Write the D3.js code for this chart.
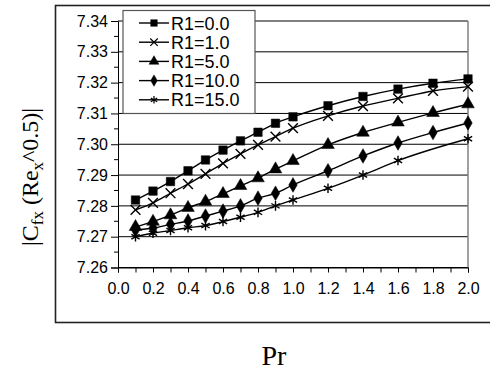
<!DOCTYPE html>
<html>
<head>
<meta charset="utf-8">
<script src="https://cdn.jsdelivr.net/npm/d3@7"></script>
<style>
  body { margin: 0; background: #fff; }
  .tick-label { font-family: "Liberation Sans", Arial, sans-serif; font-size: 16px; fill: #000; }
  .legend-label { font-family: "Liberation Sans", Arial, sans-serif; font-size: 18px; fill: #000; }
  .title { font-family: "Liberation Serif", "Times New Roman", serif; fill: #000; }
</style>
</head>
<body>
<div id="chart"></div>
<script>
// ---- data
const prValues = [0.1, 0.2, 0.3, 0.4, 0.5, 0.6, 0.7, 0.8, 0.9, 1.0, 1.2, 1.4, 1.6, 1.8, 2.0];
const seriesNames = ["R1=0.0", "R1=1.0", "R1=5.0", "R1=10.0", "R1=15.0"];
const r1_00 = [7.2819, 7.2848, 7.2879, 7.2914, 7.2949, 7.2981, 7.3011, 7.3039, 7.3068, 7.3089, 7.3125, 7.3155, 7.3179, 7.3198, 7.3212];
const r1_01 = [7.2787, 7.2810, 7.2841, 7.2871, 7.2904, 7.2938, 7.2969, 7.2998, 7.3025, 7.3052, 7.3092, 7.3124, 7.3149, 7.3173, 7.3187];
const r1_05 = [7.2732, 7.2749, 7.2770, 7.2794, 7.2814, 7.2839, 7.2865, 7.2890, 7.2919, 7.2946, 7.2998, 7.3038, 7.3071, 7.3102, 7.3130];
const r1_10 = [7.2722, 7.2728, 7.2740, 7.2751, 7.2767, 7.2783, 7.2800, 7.2825, 7.2841, 7.2868, 7.2914, 7.2962, 7.3004, 7.3038, 7.3069];
// the 1.8 point is not drawn in the original for R1=15.0
const r1_15 = [7.2700, 7.2711, 7.2720, 7.2729, 7.2736, 7.2749, 7.2763, 7.2779, 7.2800, 7.2819, 7.2857, 7.2900, 7.2947, null, 7.3018];
const xTicks = d3.range(0, 21).map(i => i / 10);
const xTickLabels = ["0.0", "0.2", "0.4", "0.6", "0.8", "1.0", "1.2", "1.4", "1.6", "1.8", "2.0"];
const yTickLabels = ["7.26", "7.27", "7.28", "7.29", "7.30", "7.31", "7.32", "7.33", "7.34"];

const allSeries = [r1_00, r1_01, r1_05, r1_10, r1_15];
const symbols = [d3.symbolSquare, d3.symbolTimes, d3.symbolTriangle, d3.symbolDiamond, d3.symbolAsterisk];
const symSize = [72, 64, 70, 62, 64];
const filled = [true, false, true, true, false];

const W = 490, H = 370;
const plot = { left: 118, right: 468, top: 21, bottom: 267.5 };

const svg = d3.select("#chart").append("svg")
  .attr("width", W)
  .attr("height", H);

// outer frame (right side runs off the picture)
svg.append("rect")
  .attr("x", 55.5).attr("y", 5.5)
  .attr("width", 450).attr("height", 317)
  .attr("fill", "none")
  .attr("stroke", "#222")
  .attr("stroke-width", 1.6);

const x = d3.scaleLinear().domain([0, 2]).range([plot.left, plot.right]);
const y = d3.scaleLinear().domain([7.26, 7.34]).range([plot.bottom, plot.top]);

//---- grid lines
const yMajor = yTickLabels.map(Number);
svg.append("g").selectAll("line")
  .data(yMajor)
  .enter().append("line")
  .attr("x1", plot.left).attr("x2", plot.right)
  .attr("y1", d => y(d)).attr("y2", d => y(d))
  .attr("stroke", "#000")
  .attr("stroke-width", 1);

// right border of plot
svg.append("line")
  .attr("x1", plot.right).attr("x2", plot.right)
  .attr("y1", plot.top).attr("y2", plot.bottom)
  .attr("stroke", "#808080").attr("stroke-width", 1.5);

//---- y axis
const yAxis = d3.axisLeft(y)
  .tickValues(yMajor)
  .tickSize(7)
  .tickPadding(3)
  .tickFormat((d, i) => yTickLabels[i]);
const gy = svg.append("g")
  .attr("transform", `translate(${plot.left},0)`)
  .call(yAxis);
gy.attr("font-family", null).attr("font-size", null);
gy.select(".domain").attr("stroke", "#000");
gy.selectAll("text").attr("class", "tick-label");

// minor ticks half way
const yMinor = d3.range(0, 8).map(i => 7.265 + i * 0.01);
svg.append("g").selectAll("line")
  .data(yMinor)
  .enter().append("line")
  .attr("x1", plot.left - 4).attr("x2", plot.left)
  .attr("y1", d => y(d)).attr("y2", d => y(d))
  .attr("stroke", "#000");

//---- x axis
const xAxis = d3.axisBottom(x)
  .tickValues(xTicks)
  .tickSize(5)
  .tickPadding(10)
  .tickFormat(d => {
    const k = Math.round(d * 10);
    return k % 2 === 0 ? xTickLabels[k / 2] : "";
  });
const gx = svg.append("g")
  .attr("transform", `translate(0,${plot.bottom})`)
  .call(xAxis);
gx.attr("font-family", null).attr("font-size", null);
gx.select(".domain").attr("stroke", "#000");
gx.selectAll("text").attr("class", "tick-label");

//---- series
const line = d3.line()
  .x(d => x(d.pr))
  .y(d => y(d.v))
  .curve(d3.curveMonotoneX);

allSeries.forEach((vals, s) => {
  const pts = vals.map((v, i) => ({ pr: prValues[i], v: v })).filter(d => d.v !== null);
  svg.append("path")
    .datum(pts)
    .attr("d", line)
    .attr("fill", "none")
    .attr("stroke", "#000")
    .attr("stroke-width", 1.4);

  svg.append("g").selectAll("path")
    .data(pts)
    .enter().append("path")
    .attr("transform", d => `translate(${x(d.pr)},${y(d.v)})`)
    .attr("d", d3.symbol(symbols[s], symSize[s]))
    .attr("fill", filled[s] ? "#000" : "none")
    .attr("stroke", "#000")
    .attr("stroke-width", filled[s] ? 0.5 : 1.4);
});

//---- legend
const legend = svg.append("g");
legend.append("rect")
  .attr("x", 123).attr("y", 10.5)
  .attr("width", 132).attr("height", 103)
  .attr("fill", "#fff")
  .attr("stroke", "#555")
  .attr("stroke-width", 1.2);

seriesNames.forEach((name, s) => {
  const cy = 23 + s * 19.2;
  legend.append("line")
    .attr("x1", 139).attr("x2", 169)
    .attr("y1", cy).attr("y2", cy)
    .attr("stroke", "#000").attr("stroke-width", 1.4);
  legend.append("path")
    .attr("transform", `translate(154,${cy})`)
    .attr("d", d3.symbol(symbols[s], symSize[s] * 0.6))
    .attr("fill", filled[s] ? "#000" : "none")
    .attr("stroke", "#000")
    .attr("stroke-width", filled[s] ? 0.5 : 1.2);
  legend.append("text")
    .attr("class", "legend-label")
    .attr("x", 171)
    .attr("y", cy + 6.5)
    .text(name);
});

//---- axis titles
const yTitle = svg.append("text")
  .attr("class", "title")
  .attr("font-size", 24)
  .attr("text-anchor", "middle")
  .attr("transform", "translate(38,177) rotate(-90)");
yTitle.append("tspan").text("|C");
yTitle.append("tspan").attr("font-size", 17).attr("dy", 5).text("fx");
yTitle.append("tspan").attr("dy", -5).text(" (Re");
yTitle.append("tspan").attr("font-size", 17).attr("dy", 5).text("x");
yTitle.append("tspan").attr("dy", -5).text("^0.5)|");

svg.append("text")
  .attr("class", "title")
  .attr("font-size", 28)
  .attr("text-anchor", "middle")
  .attr("x", 274)
  .attr("y", 365)
  .text("Pr");
</script>
</body>
</html>
